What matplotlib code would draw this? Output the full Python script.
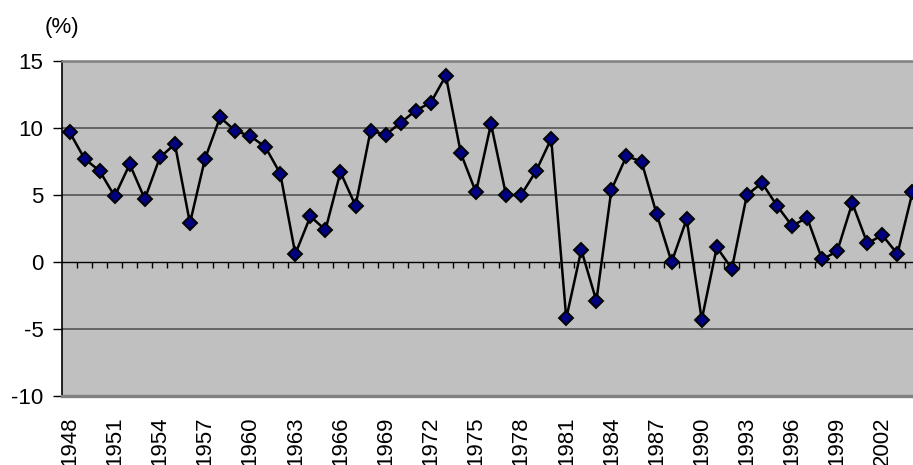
import matplotlib
matplotlib.use("Agg")
import matplotlib.pyplot as plt

# annual growth rate (%), 1948-2004
years = list(range(1948, 2005))
growth = [
    9.7, 7.7, 6.8, 4.9, 7.3, 4.7, 7.8, 8.8, 2.9, 7.7,
    10.8, 9.8, 9.4, 8.6, 6.6, 0.6, 3.4, 2.4, 6.7, 4.2,
    9.8, 9.5, 10.4, 11.3, 11.9, 13.9, 8.1, 5.2, 10.3, 5.0,
    5.0, 6.8, 9.2, -4.2, 0.9, -2.9, 5.4, 7.9, 7.5, 3.6,
    0.0, 3.2, -4.3, 1.1, -0.5, 5.0, 5.9, 4.2, 2.7, 3.3,
    0.2, 0.8, 4.4, 1.4, 2.0, 0.6, 5.2,
]
label_years = years[::3]
y_ticks = [-10, -5, 0, 5, 10, 15]

plt.rcParams["font.family"] = ["Liberation Sans", "DejaVu Sans"]

W, H = 913, 465
fig = plt.figure(figsize=(W / 100, H / 100), dpi=100)
left, right, top, bottom = 62, 920, 61, 396
ax = fig.add_axes([left / W, 1 - bottom / H, (right - left) / W, (bottom - top) / H])

ax.set_facecolor("#c0c0c0")
n = len(years)
ax.set_xlim(-0.5, n - 0.5)
ax.set_ylim(-10, 15)

for v in (-5, 5, 10):
    ax.axhline(v, color="#555555", lw=1.2, zorder=1)
ax.axhline(0, color="black", lw=1.0, zorder=1)

ax.plot(range(n), growth, color="black", lw=1.8, marker="D", ms=6.8,
        mfc="#000080", mec="black", mew=1.4, zorder=3, clip_on=False)

# spines
ax.spines["left"].set_color("black")
ax.spines["left"].set_linewidth(1.2)
ax.spines["top"].set_color("#808080")
ax.spines["top"].set_linewidth(1.8)
ax.spines["bottom"].set_color("#808080")
ax.spines["bottom"].set_linewidth(2.4)
ax.spines["right"].set_visible(False)

ax.set_yticks(y_ticks)
ax.set_yticklabels([str(v) for v in y_ticks], fontsize=16)
ax.tick_params(axis="y", direction="out", length=6.5, width=1, color="black", pad=7)

pos = [years.index(y) for y in label_years]
ax.set_xticks(pos)
ax.set_xticklabels([str(y) for y in label_years], rotation=90, fontsize=16)
ax.tick_params(axis="x", length=0, pad=15)

# category tick marks on the zero line
sec = ax.secondary_xaxis(10 / 25)
sec.set_xticks([i + 0.5 for i in range(n - 1)])
sec.set_xticklabels([])
sec.tick_params(axis="x", direction="out", length=4, width=1, color="black")
sec.spines["bottom"].set_visible(False)

fig.text(45 / W, 1 - 27 / H, "(%)", fontsize=16, va="center", ha="left")

fig.savefig("out.png", dpi=100)
